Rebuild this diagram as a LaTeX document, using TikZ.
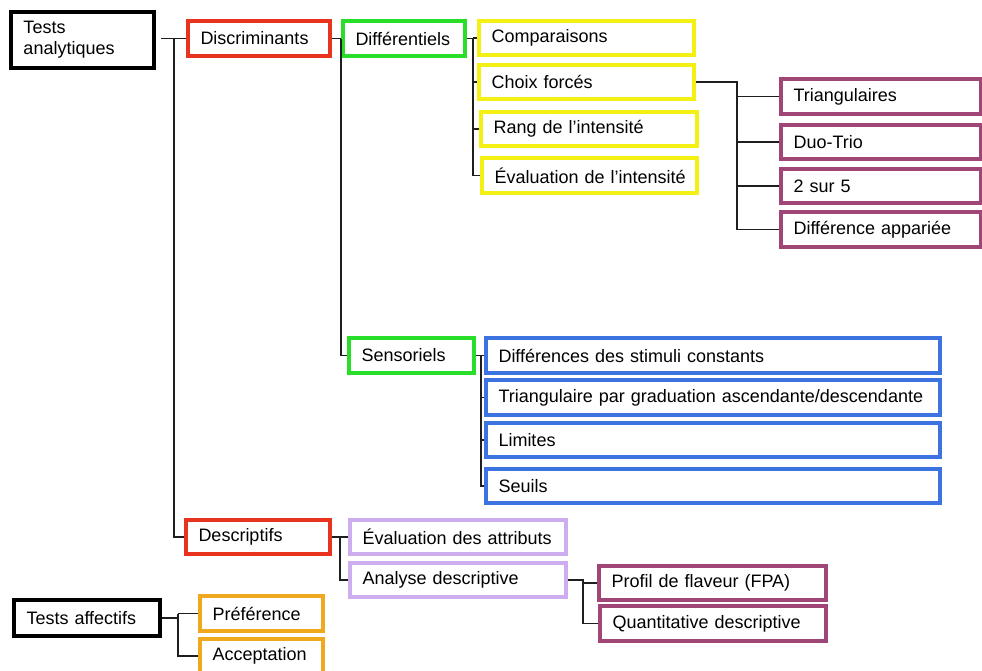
\documentclass[tikz,border=0pt]{standalone}
\usepackage{fontspec}
\setmainfont{Liberation Sans}
\definecolor{redc}{RGB}{232,52,30}
\definecolor{greenc}{RGB}{40,222,40}
\definecolor{yellowc}{RGB}{245,240,20}
\definecolor{purplec}{RGB}{160,70,118}
\definecolor{bluec}{RGB}{60,115,225}
\definecolor{lavc}{RGB}{205,172,240}
\definecolor{orangec}{RGB}{240,168,30}
\definecolor{linec}{RGB}{30,30,30}
\newcommand\mybox[7]{\node[bx, draw=#6, minimum width={(#4-#2)*0.75pt}, minimum height={(#5-#3)*0.75pt}, text width={(#4-#2-25)*0.75pt}] (#1) at ({(#2+#4)/2},{(#3+#5)/2}) {#7};}
\begin{document}
\begin{tikzpicture}[x=0.75pt,y=-0.75pt,
  bx/.style={rectangle, line width=2.6pt, fill=white, inner xsep=9.4pt, inner ysep=0pt, align=left,
    font=\fontsize{13.5}{15.5}\selectfont},
  conn/.style={draw=linec, line width=1.1pt}]
\useasboundingbox (0,0) rectangle (982,671);
% level 0
\mybox{ta}{11}{12}{154}{68}{black}{Tests\\analytiques}
\mybox{taf}{14}{600}{160}{636}{black}{\mbox{Tests affectifs}}
% level 1
\mybox{disc}{188}{21}{330}{56}{redc}{\mbox{Discriminants}}
\mybox{desc}{186}{520}{330}{554}{redc}{\mbox{Descriptifs}}
\mybox{pref}{200}{596}{323}{631}{orangec}{\mbox{Préférence}}
\mybox{acc}{200}{639}{323}{673}{orangec}{\mbox{Acceptation}}
% level 2
\mybox{diff}{343}{21}{465}{56}{greenc}{\mbox{Différentiels}}
\mybox{sens}{349}{338}{474}{373}{greenc}{\mbox{Sensoriels}}
\mybox{evat}{350}{520}{566}{554}{lavc}{\mbox{Évaluation des attributs}}
\mybox{anad}{350}{563}{566}{597}{lavc}{\mbox{Analyse descriptive}}
% level 3
\mybox{comp}{479}{21}{694}{55}{yellowc}{\mbox{Comparaisons}}
\mybox{choix}{479}{65}{694}{99}{yellowc}{\mbox{Choix forcés}}
\mybox{rang}{481}{112}{697}{146}{yellowc}{\mbox{Rang de l’intensité}}
\mybox{evint}{482}{158}{697}{193}{yellowc}{\mbox{Évaluation de l’intensité}}
\mybox{dsc}{486}{338}{940}{373}{bluec}{\mbox{Différences des stimuli constants}}
\mybox{tri}{486}{380}{940}{415}{bluec}{\mbox{Triangulaire par graduation ascendante/descendante}}
\mybox{lim}{486}{423}{940}{457}{bluec}{\mbox{Limites}}
\mybox{seu}{486}{469}{940}{503}{bluec}{\mbox{Seuils}}
\mybox{prof}{599}{566}{826}{600}{purplec}{\mbox{Profil de flaveur (FPA)}}
\mybox{quant}{600}{606}{826}{641}{purplec}{\mbox{Quantitative descriptive}}
% level 4
\mybox{trg}{781}{79}{981}{114}{purplec}{\mbox{Triangulaires}}
\mybox{duo}{781}{125}{981}{159}{purplec}{\mbox{Duo-Trio}}
\mybox{deux}{781}{169}{981}{203}{purplec}{\mbox{2 sur 5}}
\mybox{dap}{781}{212}{981}{247}{purplec}{\mbox{Différence appariée}}
% bus coordinates
\coordinate (b0) at (174,0);
\coordinate (b1) at (341,0);
\coordinate (b2) at (473,0);
\coordinate (b3) at (737,0);
\coordinate (b4) at (481,0);
\coordinate (b5) at (340,0);
\coordinate (b6) at (583,0);
\coordinate (b7) at (178,0);
\coordinate (s0) at (161,0);
% connectors
\draw[conn] (s0 |- disc.west) -- (disc.west);
\draw[conn] (b0 |- disc.west) -- (b0 |- desc.west) -- (desc.west);
\draw[conn] (disc.east) -- (diff.west);
\draw[conn] (b1 |- diff.west) -- (b1 |- sens.west) -- (sens.west);
\draw[conn] (diff.east) -- (b2 |- diff.east) -- (b2 |- evint.west) -- (evint.west);
\draw[conn] (b2 |- comp.west) -- (comp.west);
\draw[conn] (b2 |- choix.west) -- (choix.west);
\draw[conn] (b2 |- rang.west) -- (rang.west);
\draw[conn] (choix.east) -- (b3 |- choix.east) -- (b3 |- dap.west) -- (dap.west);
\draw[conn] (b3 |- trg.west) -- (trg.west);
\draw[conn] (b3 |- duo.west) -- (duo.west);
\draw[conn] (b3 |- deux.west) -- (deux.west);
\draw[conn] (sens.east) -- (b4 |- sens.east) -- (b4 |- seu.west) -- (seu.west);
\draw[conn] (b4 |- dsc.west) -- (dsc.west);
\draw[conn] (b4 |- tri.west) -- (tri.west);
\draw[conn] (b4 |- lim.west) -- (lim.west);
\draw[conn] (desc.east) -- (b5 |- desc.east) -- (b5 |- anad.west) -- (anad.west);
\draw[conn] (b5 |- evat.west) -- (evat.west);
\draw[conn] (anad.east) -- (b6 |- anad.east) -- (b6 |- quant.west) -- (quant.west);
\draw[conn] (b6 |- prof.west) -- (prof.west);
\draw[conn] (taf.east) -- (b7 |- taf.east);
\draw[conn] (b7 |- pref.west) -- (pref.west);
\draw[conn] (b7 |- pref.west) -- (b7 |- acc.west) -- (acc.west);
\end{tikzpicture}
\end{document}
